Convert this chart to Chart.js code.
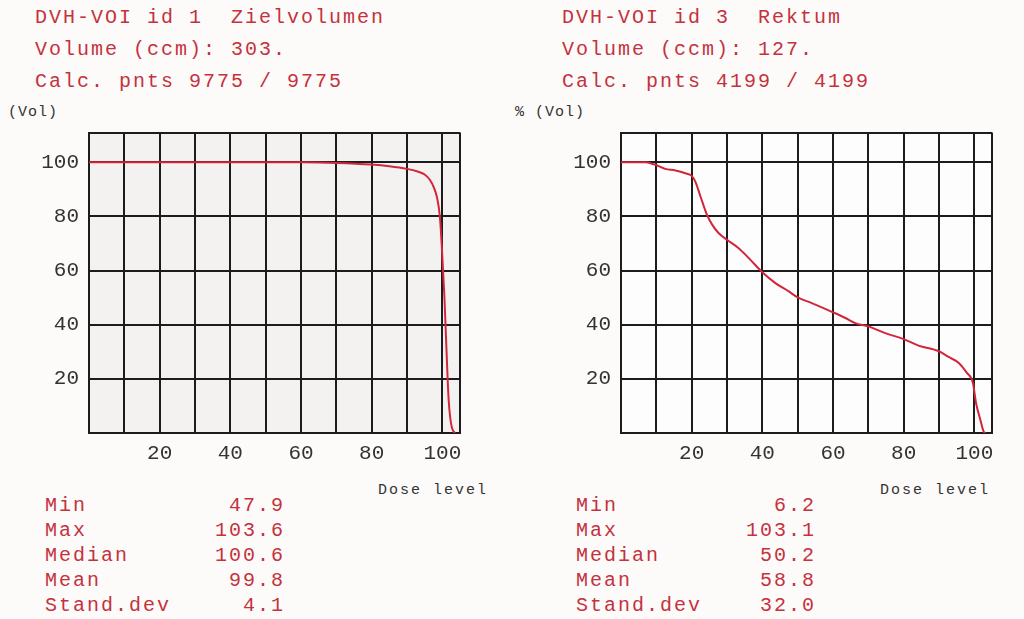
<!DOCTYPE html>
<html>
<head>
<meta charset="utf-8">
<script src="https://cdn.jsdelivr.net/npm/chart.js@4.4.1/dist/chart.umd.min.js"></script>
<style>
  body { margin: 0; width: 1024px; height: 619px; background: #fcfbfa; position: relative; overflow: hidden;
         font-family: "Liberation Mono", monospace; }
  .head { position: absolute; top: 2px; color: #c4323e; font-size: 20px; line-height: 32px; letter-spacing: 2px; white-space: pre; }
  .unit { position: absolute; top: 104px; color: #333; font-size: 15px; letter-spacing: 1px; white-space: pre; }
  .dose { position: absolute; top: 482px; color: #333; font-size: 15px; letter-spacing: 2px; white-space: pre; }
  .stats { position: absolute; top: 493px; color: #c4323e; font-size: 20px; line-height: 25px; letter-spacing: 2px; }
  .stats div { display: flex; justify-content: space-between; }
  canvas { position: absolute; top: 110px; }
</style>
</head>
<body>
<div class="head" style="left:35px">DVH-VOI id 1  Zielvolumen
Volume (ccm): 303.
Calc. pnts 9775 / 9775</div>
<div class="head" style="left:562px">DVH-VOI id 3  Rektum
Volume (ccm): 127.
Calc. pnts 4199 / 4199</div>
<div class="unit" style="left:8px">(Vol)</div>
<div class="unit" style="left:515px">% (Vol)</div>
<div class="dose" style="left:378px">Dose level</div>
<div class="dose" style="left:880px">Dose level</div>
<div class="stats" id="statsLeft" style="left:45px;width:240px"></div>
<div class="stats" id="statsRight" style="left:576px;width:240px"></div>
<canvas id="chartLeft" width="480" height="360" style="left:0px"></canvas>
<canvas id="chartRight" width="480" height="360" style="left:532px"></canvas>
<script>
// dose (x) / volume % (y)
const zielDose   = [0, 60, 70, 80, 85, 90, 93, 95, 96.5, 97.5, 98.5, 99.3, 99.8, 100.2, 100.6, 100.9, 101.2, 101.5, 101.8, 102.2, 102.7, 103.2, 103.6];
const zielVolume = [100, 100, 99.8, 99.2, 98.6, 97.6, 96.6, 95.5, 93.5, 91, 87, 80, 70, 60, 50, 40, 30, 20, 12, 6, 2, 0.5, 0];

const rektumDose   = [0, 7, 9.7, 12.5, 15.4, 18.2, 20, 21, 22.5, 24.3, 25.8, 27.6, 30, 33.3, 36.1, 40, 43.7, 47.5, 50, 54, 60, 63.5, 66.3, 70, 74.8, 80, 84.2, 90, 92.7, 95.6, 97.9, 99.6, 100.5, 101.7, 102.6, 103.1];
const rektumVolume = [100, 100, 99.1, 97.6, 97, 96, 95, 93, 87.4, 80.7, 77, 73.9, 71.4, 68.3, 64.7, 59.4, 55.4, 52.3, 50.1, 48, 44.6, 42.5, 40.6, 39.4, 36.9, 34.7, 32.3, 30.2, 28.1, 25.9, 22.2, 18.5, 11, 4.9, 0.6, 0];

const xGridTicks = [0, 10, 20, 30, 40, 50, 60, 70, 80, 90, 100, 105];
const yGridTicks = [0, 20, 40, 60, 80, 100, 111];
const xLabelTicks = [20, 40, 60, 80, 100];
const yLabelTicks = [20, 40, 60, 80, 100];

const statNames = ['Min', 'Max', 'Median', 'Mean', 'Stand.dev'];
const zielStats = ['47.9', '103.6', '100.6', '99.8', '4.1'];
const rektumStats = ['6.2', '103.1', '50.2', '58.8', '32.0'];

function fillStats(id, values) {
    let box = document.getElementById(id);
    for (let i = 0; i < statNames.length; i++) {
        let row = document.createElement('div');
        row.innerHTML = '<span>' + statNames[i] + '</span><span>' + values[i] + '</span>';
        box.appendChild(row);
    }
}
fillStats('statsLeft', zielStats);
fillStats('statsRight', rektumStats);

function makeDvh(canvasId, dose, volume, plotBg) {
    let points = dose.map((d, i) => ({ x: d, y: volume[i] }));
    let gridStyle = { color: '#1c1c1c', lineWidth: 2, drawTicks: false };
    let tickFont = { family: 'Liberation Mono', size: 21 };

    new Chart(document.getElementById(canvasId), {
        type: 'line',
        data: {
            datasets: [{
                data: points,
                borderColor: '#d2263a',
                borderWidth: 2,
                pointRadius: 0,
                cubicInterpolationMode: 'monotone'
            }]
        },
        options: {
            responsive: false,
            animation: false,
            layout: { padding: { top: 0, right: 20, left: 0, bottom: 0 } },
            plugins: { legend: { display: false }, tooltip: { enabled: false } },
            scales: {
                x: {
                    type: 'linear',
                    min: 0,
                    max: 105,
                    grid: gridStyle,
                    border: { color: '#1c1c1c', width: 2 },
                    afterBuildTicks: (scale) => { scale.ticks = xGridTicks.map(v => ({ value: v })); },
                    afterFit: (scale) => { scale.height = 37; },
                    ticks: {
                        padding: 8,
                        color: '#333',
                        font: tickFont,
                        maxRotation: 0,
                        autoSkip: false,
                        callback: (v) => xLabelTicks.includes(v) ? String(v) : ''
                    }
                },
                y: {
                    min: 0,
                    max: 111,
                    grid: gridStyle,
                    border: { color: '#1c1c1c', width: 2 },
                    afterBuildTicks: (scale) => { scale.ticks = yGridTicks.map(v => ({ value: v })); },
                    afterFit: (scale) => { scale.width = 89; },
                    ticks: {
                        padding: 10,
                        color: '#333',
                        font: tickFont,
                        autoSkip: false,
                        callback: (v) => yLabelTicks.includes(v) ? String(v) : ''
                    }
                }
            }
        },
        plugins: [{
            id: 'plotBg',
            beforeDraw: (chart) => {
                let a = chart.chartArea;
                chart.ctx.save();
                chart.ctx.fillStyle = plotBg;
                chart.ctx.fillRect(a.left, a.top, a.right - a.left, a.bottom - a.top);
                chart.ctx.restore();
            }
        }]
    });
}

makeDvh('chartLeft', zielDose, zielVolume, '#f4f2f1');
makeDvh('chartRight', rektumDose, rektumVolume, '#fdfdfd');
</script>
</body>
</html>
